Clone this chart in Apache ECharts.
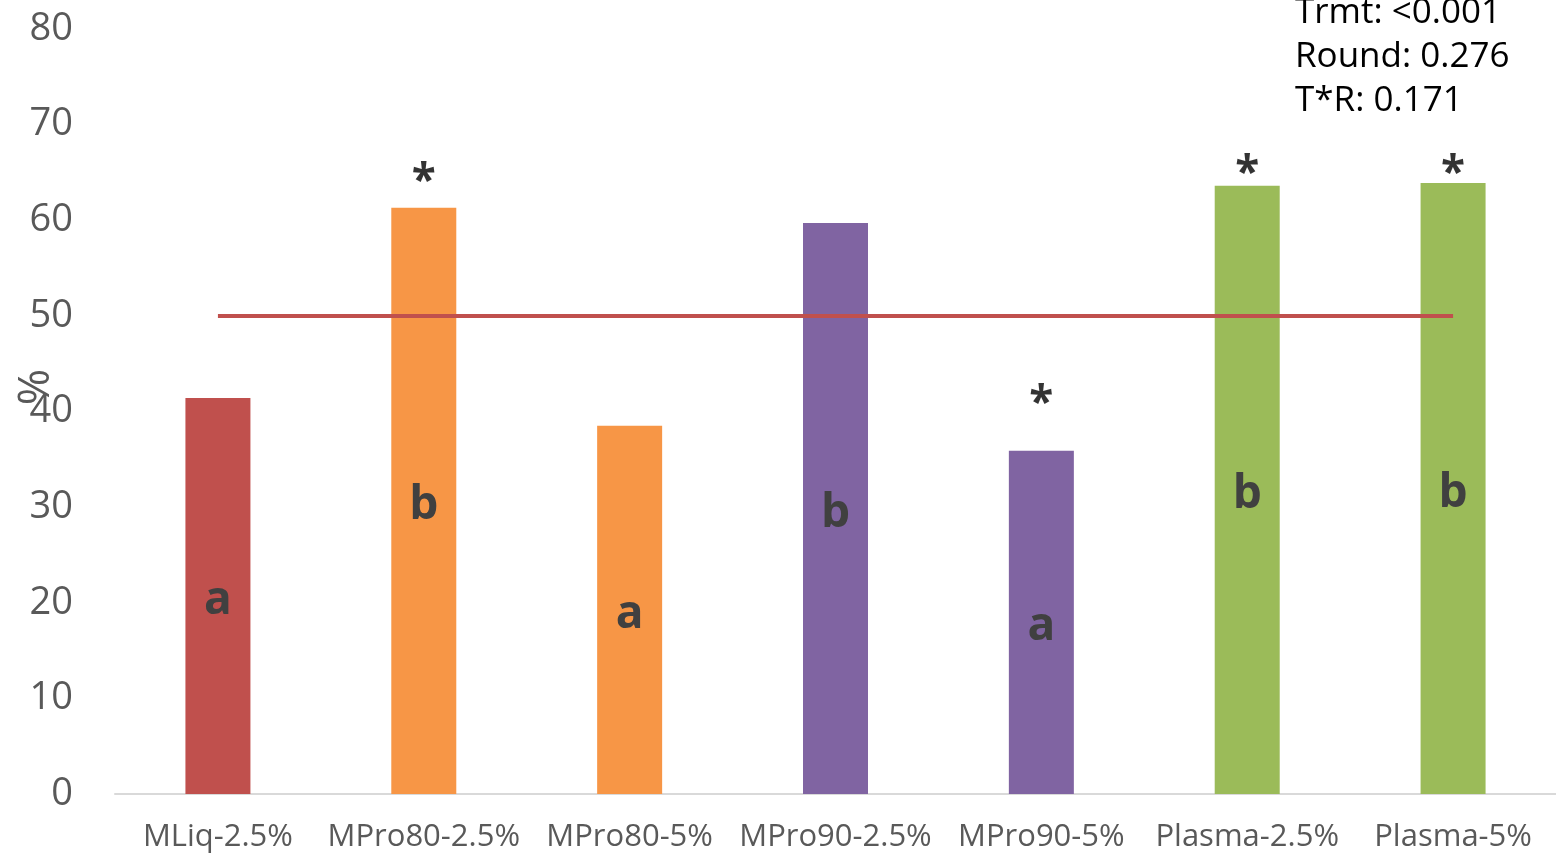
<!DOCTYPE html>
<html>
<head>
	<meta charset="utf-8">
	<script type="text/javascript" src="https://cdn.jsdelivr.net/npm/echarts@6/dist/echarts.min.js"></script>
	<style>body{margin:0;background:#fff;}</style>
</head>
<body>
	<div id="main" style="width:1556px;height:859px;"></div>
	<script type="text/javascript">
		var categories = ['MLiq-2.5%', 'MPro80-2.5%', 'MPro80-5%', 'MPro90-2.5%', 'MPro90-5%', 'Plasma-2.5%', 'Plasma-5%'];
		var values = [41.4, 61.3, 38.5, 59.7, 35.9, 63.6, 63.9];
		var barColors = ['#c0504d', '#f79646', '#f79646', '#8064a2', '#8064a2', '#9bbb59', '#9bbb59'];
		var letters = ['a', 'b', 'a', 'b', 'a', 'b', 'b'];
		// asterisk positions (y value), null = none
		var stars = [null, 64.7, null, null, 41.5, 65.5, 65.5];
		var refValue = 50;
		var statsText = ['Trmt: <0.001', 'Round: 0.276', 'T*R: 0.171'];

		var font = '"Open Sans", "Noto Sans", sans-serif';
		var chart = echarts.init(document.getElementById('main'));

		var barData = [];
		for (var i = 0; i < values.length; i++) {
			barData.push({
				value: values[i],
				itemStyle: { color: barColors[i] },
				label: { formatter: letters[i] }
			});
		}
		var starData = [];
		for (var i = 0; i < stars.length; i++) {
			starData.push(stars[i] == null ? '-' : stars[i]);
		}

		chart.setOption({
			animation: false,
			grid: { left: 115, right: 0, top: 29, bottom: 65, containLabel: false, outerBoundsMode: 'none' },
			xAxis: {
				type: 'category',
				data: categories,
				axisLine: { lineStyle: { color: '#d9d9d9', width: 2 } },
				axisTick: { show: false },
				axisLabel: { color: '#595959', fontSize: 31, fontFamily: font, margin: 28, interval: 0 }
			},
			yAxis: {
				type: 'value',
				min: 0, max: 80, interval: 10,
				splitLine: { show: false },
				axisLine: { show: false },
				axisTick: { show: false },
				axisLabel: { color: '#595959', fontSize: 38, fontFamily: font, margin: 42, padding: [4, 0, 0, 0] }
			},
			series: [{
				type: 'bar',
				data: barData,
				barWidth: 65,
				label: {
					show: true,
					position: 'inside',
					color: '#404040',
					fontSize: 46,
					fontWeight: 'bold',
					fontFamily: font,
					offset: [0, 5]
				},
				markLine: {
					symbol: 'none',
					silent: true,
					label: { show: false },
					lineStyle: { color: '#c0504d', width: 4, type: 'solid' },
					data: [[{ coord: [0, refValue] }, { coord: [categories.length - 1, refValue] }]]
				}
			}, {
				type: 'scatter',
				data: starData,
				symbolSize: 1,
				itemStyle: { color: 'rgba(0,0,0,0)' },
				label: {
					show: true,
					position: 'inside',
					formatter: '*',
					color: '#000',
					fontSize: 44,
					fontWeight: 'bold',
					fontFamily: font,
					offset: [0, 7]
				}
			}],
			graphic: [{
				type: 'text',
				left: 1295,
				top: -9,
				style: {
					text: statsText.join('\n'),
					fill: '#000',
					font: '35px ' + font,
					lineHeight: 44
				}
			}, {
				// y axis title, rotated
				type: 'text',
				x: 36,
				y: 387,
				rotation: Math.PI / 2,
				style: {
					text: '%',
					fill: '#595959',
					font: '44px ' + font,
					align: 'center',
					verticalAlign: 'middle'
				}
			}]
		});
	</script>
</body>
</html>
